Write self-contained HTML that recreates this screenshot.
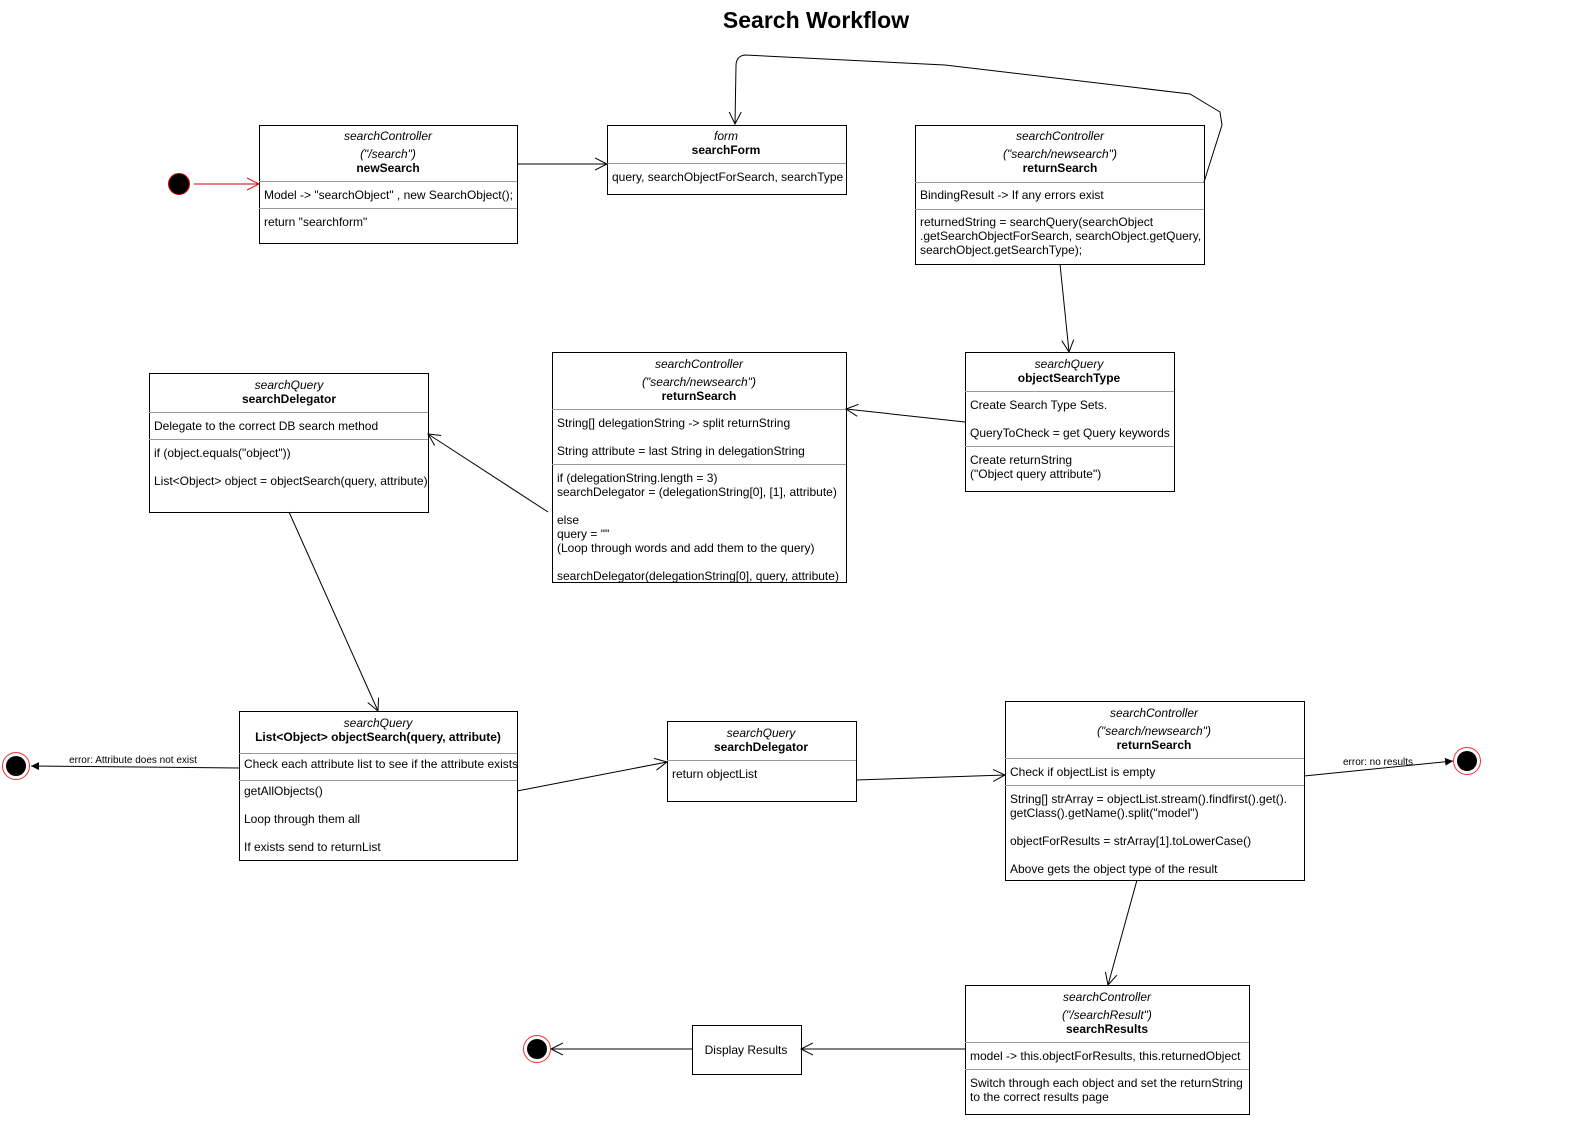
<!DOCTYPE html>
<html><head><meta charset="utf-8"><style>
html,body{margin:0;padding:0;background:#fff;overflow:hidden;width:1576px;height:1121px}
svg{display:block}
svg text{font-family:"Liberation Sans",Arial,sans-serif;font-size:12px;fill:#000}
.i{font-style:italic}.b{font-weight:bold}
.c{text-anchor:middle}
</style></head><body>
<svg width="1576" height="1121" viewBox="0 0 1576 1121" xmlns="http://www.w3.org/2000/svg">
<defs>
<marker id="o" markerWidth="14" markerHeight="14" refX="12" refY="7" orient="auto" markerUnits="userSpaceOnUse"><path d="M0,1 L12,7 L0,13" fill="none" stroke="#000" stroke-width="1"/></marker>
<marker id="or" markerWidth="14" markerHeight="14" refX="12" refY="7" orient="auto" markerUnits="userSpaceOnUse"><path d="M0,1 L12,7 L0,13" fill="none" stroke="#c00" stroke-width="1"/></marker>
<marker id="f" markerWidth="10" markerHeight="10" refX="8" refY="4" orient="auto" markerUnits="userSpaceOnUse"><path d="M0,0 L8,4 L0,8 Z" fill="#000"/></marker>
</defs>
<text x="816" y="28" class="b c" style="font-size:23px">Search Workflow</text>

<g fill="none" stroke="#000" stroke-width="1">
<rect x="259.5" y="125.5" width="258" height="118"/>
<line x1="259" y1="181.5" x2="517" y2="181.5" stroke="#999"/><line x1="259" y1="208.5" x2="517" y2="208.5" stroke="#999"/>
<rect x="607.5" y="125.5" width="239" height="69"/>
<line x1="607" y1="163.5" x2="846" y2="163.5" stroke="#999"/>
<rect x="915.5" y="125.5" width="289" height="139"/>
<line x1="915" y1="182.5" x2="1204" y2="182.5" stroke="#999"/><line x1="915" y1="209.5" x2="1204" y2="209.5" stroke="#999"/>
<rect x="965.5" y="352.5" width="209" height="139"/>
<line x1="965" y1="391.5" x2="1174" y2="391.5" stroke="#999"/><line x1="965" y1="446.5" x2="1174" y2="446.5" stroke="#999"/>
<rect x="552.5" y="352.5" width="294" height="230"/>
<line x1="552" y1="409.5" x2="846" y2="409.5" stroke="#999"/><line x1="552" y1="464.5" x2="846" y2="464.5" stroke="#999"/>
<rect x="149.5" y="373.5" width="279" height="139"/>
<line x1="149" y1="412.5" x2="428" y2="412.5" stroke="#999"/><line x1="149" y1="439.5" x2="428" y2="439.5" stroke="#999"/>
<rect x="239.5" y="711.5" width="278" height="149"/>
<line x1="239" y1="753.5" x2="517" y2="753.5" stroke="#999"/><line x1="239" y1="780.5" x2="517" y2="780.5" stroke="#999"/>
<rect x="667.5" y="721.5" width="189" height="80"/>
<line x1="667" y1="760.5" x2="856" y2="760.5" stroke="#999"/>
<rect x="1005.5" y="701.5" width="299" height="179"/>
<line x1="1005" y1="758.5" x2="1304" y2="758.5" stroke="#999"/><line x1="1005" y1="785.5" x2="1304" y2="785.5" stroke="#999"/>
<rect x="965.5" y="985.5" width="284" height="129"/>
<line x1="965" y1="1042.5" x2="1249" y2="1042.5" stroke="#999"/><line x1="965" y1="1069.5" x2="1249" y2="1069.5" stroke="#999"/>
<rect x="692.5" y="1025.5" width="109" height="49"/>

<line x1="194" y1="184" x2="259" y2="184" stroke="#c00" marker-end="url(#or)"/>
<line x1="517" y1="164" x2="607" y2="164" marker-end="url(#o)"/>
<path d="M1204,182 L1222,125 L1220,112 L1190,94 L945,65 L745,55 Q736,56 736,66 L735,124" marker-end="url(#o)"/>
<line x1="1060" y1="264" x2="1069" y2="352" marker-end="url(#o)"/>
<line x1="965" y1="422" x2="846" y2="409" marker-end="url(#o)"/>
<line x1="548" y1="512" x2="428" y2="434" marker-end="url(#o)"/>
<line x1="289" y1="512" x2="378" y2="711" marker-end="url(#o)"/>
<line x1="239" y1="768" x2="31" y2="766" marker-end="url(#f)"/>
<line x1="517" y1="791" x2="667" y2="762" marker-end="url(#o)"/>
<line x1="856" y1="780" x2="1005" y2="775" marker-end="url(#o)"/>
<line x1="1304" y1="776" x2="1453" y2="761" marker-end="url(#f)"/>
<line x1="1137" y1="880" x2="1108" y2="985" marker-end="url(#o)"/>
<line x1="965" y1="1049" x2="801" y2="1049" marker-end="url(#o)"/>
<line x1="692" y1="1049" x2="551" y2="1049" marker-end="url(#o)"/>
</g>

<circle cx="179" cy="184" r="10.5" fill="#000" stroke="#c00"/>
<circle cx="16" cy="766" r="13.5" fill="#fff" stroke="#e33"/><circle cx="16" cy="766" r="10" fill="#000"/>
<circle cx="1467" cy="761" r="13.5" fill="#fff" stroke="#e33"/><circle cx="1467" cy="761" r="10" fill="#000"/>
<circle cx="537" cy="1049" r="13.5" fill="#fff" stroke="#e33"/><circle cx="537" cy="1049" r="10" fill="#000"/>

<text x="133" y="763" class="c" style="font-size:10px">error: Attribute does not exist</text>
<text x="1378" y="765" class="c" style="font-size:10px">error: no results</text>

<text x="388" y="140" class="i c">searchController</text>
<text x="388" y="158" class="i c">("/search")</text>
<text x="388" y="172" class="b c">newSearch</text>
<text x="264" y="199">Model -&gt; "searchObject" , new SearchObject();</text>
<text x="264" y="226">return "searchform"</text>

<text x="726" y="140" class="i c">form</text>
<text x="726" y="154" class="b c">searchForm</text>
<text x="612" y="181">query, searchObjectForSearch, searchType</text>

<text x="1060" y="140" class="i c">searchController</text>
<text x="1060" y="158" class="i c">("search/newsearch")</text>
<text x="1060" y="172" class="b c">returnSearch</text>
<text x="920" y="199">BindingResult -&gt; If any errors exist</text>
<text x="920" y="226">returnedString = searchQuery(searchObject</text>
<text x="920" y="240">.getSearchObjectForSearch, searchObject.getQuery,</text>
<text x="920" y="254">searchObject.getSearchType);</text>

<text x="1069" y="368" class="i c">searchQuery</text>
<text x="1069" y="382" class="b c">objectSearchType</text>
<text x="970" y="409">Create Search Type Sets.</text>
<text x="970" y="437">QueryToCheck = get Query keywords</text>
<text x="970" y="464">Create returnString</text>
<text x="970" y="478">("Object query attribute")</text>

<text x="699" y="368" class="i c">searchController</text>
<text x="699" y="386" class="i c">("search/newsearch")</text>
<text x="699" y="400" class="b c">returnSearch</text>
<text x="557" y="427">String[] delegationString -&gt; split returnString</text>
<text x="557" y="455">String attribute = last String in delegationString</text>
<text x="557" y="482">if (delegationString.length = 3)</text>
<text x="557" y="496">searchDelegator = (delegationString[0], [1], attribute)</text>
<text x="557" y="524">else</text>
<text x="557" y="538">query = ""</text>
<text x="557" y="552">(Loop through words and add them to the query)</text>
<text x="557" y="580">searchDelegator(delegationString[0], query, attribute)</text>

<text x="289" y="389" class="i c">searchQuery</text>
<text x="289" y="403" class="b c">searchDelegator</text>
<text x="154" y="430">Delegate to the correct DB search method</text>
<text x="154" y="457">if (object.equals("object"))</text>
<text x="154" y="485">List&lt;Object&gt; object = objectSearch(query, attribute)</text>

<text x="378" y="727" class="i c">searchQuery</text>
<text x="378" y="741" class="b c">List&lt;Object&gt; objectSearch(query, attribute)</text>
<text x="244" y="768">Check each attribute list to see if the attribute exists</text>
<text x="244" y="795">getAllObjects()</text>
<text x="244" y="823">Loop through them all</text>
<text x="244" y="851">If exists send to returnList</text>

<text x="761" y="737" class="i c">searchQuery</text>
<text x="761" y="751" class="b c">searchDelegator</text>
<text x="672" y="778">return objectList</text>

<text x="1154" y="717" class="i c">searchController</text>
<text x="1154" y="735" class="i c">("search/newsearch")</text>
<text x="1154" y="749" class="b c">returnSearch</text>
<text x="1010" y="776">Check if objectList is empty</text>
<text x="1010" y="803">String[] strArray = objectList.stream().findfirst().get().</text>
<text x="1010" y="817">getClass().getName().split("model")</text>
<text x="1010" y="845">objectForResults = strArray[1].toLowerCase()</text>
<text x="1010" y="873">Above gets the object type of the result</text>

<text x="1107" y="1001" class="i c">searchController</text>
<text x="1107" y="1019" class="i c">("/searchResult")</text>
<text x="1107" y="1033" class="b c">searchResults</text>
<text x="970" y="1060">model -&gt; this.objectForResults, this.returnedObject</text>
<text x="970" y="1087">Switch through each object and set the returnString</text>
<text x="970" y="1101">to the correct results page</text>

<text x="746" y="1054" class="c">Display Results</text>
</svg>
</body></html>
